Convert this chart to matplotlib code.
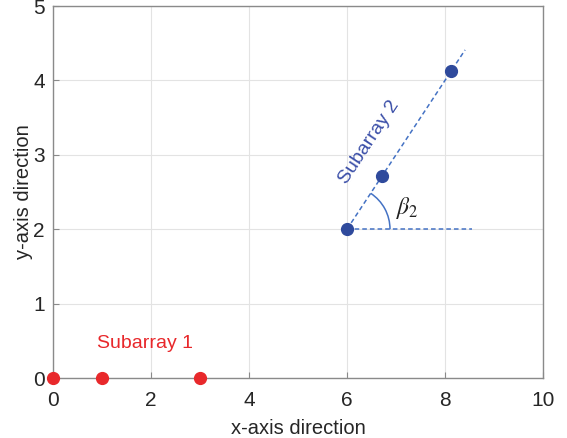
import matplotlib
matplotlib.use("Agg")
import matplotlib.pyplot as plt
from matplotlib.patches import Arc

plt.rcParams['font.family'] = ['Liberation Sans', 'DejaVu Sans']
plt.rcParams['mathtext.fontset'] = 'stix'

# data
sub1_x = [0, 1, 3]
sub1_y = [0, 0, 0]
sub2_x = [6, 6.71, 8.12]
sub2_y = [2, 2.71, 4.12]
axis_line_x = [6, 8.41]
axis_line_y = [2, 4.41]
ref_line_x = [6, 8.55]
ref_line_y = [2, 2]
beta_deg = 45
xticks = [0, 2, 4, 6, 8, 10]
yticks = [0, 1, 2, 3, 4, 5]

red = '#E8282B'
blue_pt = '#2F4A9C'
blue_ln = '#4472C4'
txt_blue = '#3B4FA8'

fig = plt.figure(figsize=(5.67, 4.38), dpi=100)
ax = fig.add_axes([53/567, 1-378/438, (543-53)/567, (378-6)/438])

ax.set_xlim(0, 10)
ax.set_ylim(0, 5)
ax.set_xticks(xticks)
ax.set_yticks(yticks)
ax.grid(True, color='#E3E3E3', linewidth=0.8)
ax.set_axisbelow(True)

ax.plot(axis_line_x, axis_line_y, linestyle=(0, (3, 2)), color=blue_ln, linewidth=1.1, zorder=2)
ax.plot(ref_line_x, ref_line_y, linestyle=(0, (3, 2)), color=blue_ln, linewidth=1.1, zorder=2)

ax.plot(sub1_x, sub1_y, 'o', color=red, markersize=8.5, clip_on=False, zorder=5)
ax.plot(sub2_x, sub2_y, 'o', color=blue_pt, markersize=8.5, clip_on=False, zorder=5)

# angle arc (circular in display space)
r_px = 43
w = 2 * r_px / (490 / 10)
h = 2 * r_px / (372 / 5)
ax.add_patch(Arc((sub2_x[0], sub2_y[0]), w, h, theta1=0, theta2=beta_deg,
                 color=blue_ln, linewidth=1.1, zorder=3))

ax.text(7.24, 2.29, r'$\beta_2$', fontsize=17, color='#222222', ha='center', va='center')
ax.text(6.45, 3.17, 'Subarray 2', fontsize=14, color=txt_blue, rotation=56.7,
        ha='center', va='center', rotation_mode='anchor')
ax.text(1.88, 0.47, 'Subarray 1', fontsize=14, color=red, ha='center', va='center')

ax.set_xlabel('x-axis direction', fontsize=14.5, color='#262626', labelpad=7)
ax.set_ylabel('y-axis direction', fontsize=14.5, color='#262626', labelpad=0)

for s in ax.spines.values():
    s.set_color('#8A8A8A')
    s.set_linewidth(1.0)
ax.tick_params(direction='in', length=4, color='#8A8A8A', labelsize=15,
               labelcolor='#262626', top=False, right=False)
ax.tick_params(axis='x', pad=9)
ax.tick_params(axis='y', pad=6)

fig.savefig('out.png', dpi=100)
